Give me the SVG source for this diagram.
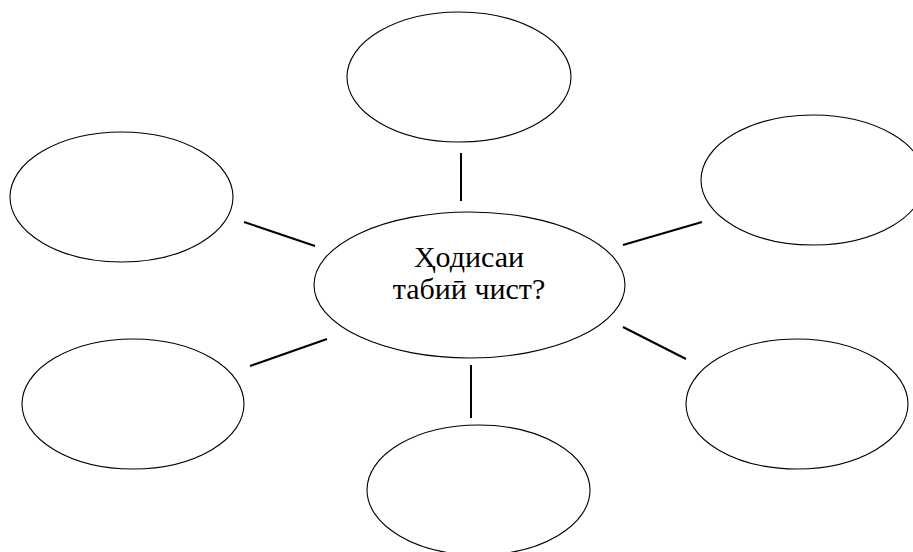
<svg xmlns="http://www.w3.org/2000/svg" width="913" height="552" viewBox="0 0 913 552">
<style>
.node{fill:#fff;stroke:#000;stroke-width:1.1}
.conn line{stroke:#000;stroke-width:2;stroke-linecap:butt}
.lbl{font-family:"Liberation Serif","Times New Roman",serif;font-size:30px;fill:#000;text-anchor:middle}
</style>
<rect width="913" height="552" fill="#fff"/>
<g class="conn" id="connectors">
<line x1="461" y1="153" x2="461" y2="201"/>
<line x1="244" y1="222" x2="315" y2="246"/>
<line x1="623" y1="245" x2="702" y2="222"/>
<line x1="250" y1="366" x2="327" y2="339"/>
<line x1="623" y1="327" x2="686" y2="359"/>
<line x1="471" y1="365" x2="471" y2="418"/>
</g>
<g id="node-top"><ellipse class="node" cx="459" cy="77" rx="112" ry="65"/></g>
<g id="node-left-top"><ellipse class="node" cx="121.5" cy="197" rx="111.5" ry="65"/></g>
<g id="node-right-top"><ellipse class="node" cx="813" cy="180" rx="112" ry="65"/></g>
<g id="node-left-bottom"><ellipse class="node" cx="133" cy="404" rx="111" ry="65"/></g>
<g id="node-right-bottom"><ellipse class="node" cx="797" cy="404" rx="111" ry="65"/></g>
<g id="node-bottom"><ellipse class="node" cx="478.5" cy="490" rx="111.5" ry="65"/></g>
<g id="node-center">
<ellipse class="node" cx="469.5" cy="285" rx="155.5" ry="73"/>
<text class="lbl" x="469" y="267">Ҳодисаи</text>
<text class="lbl" x="469" y="299">табиӣ чист?</text>
</g>
</svg>
